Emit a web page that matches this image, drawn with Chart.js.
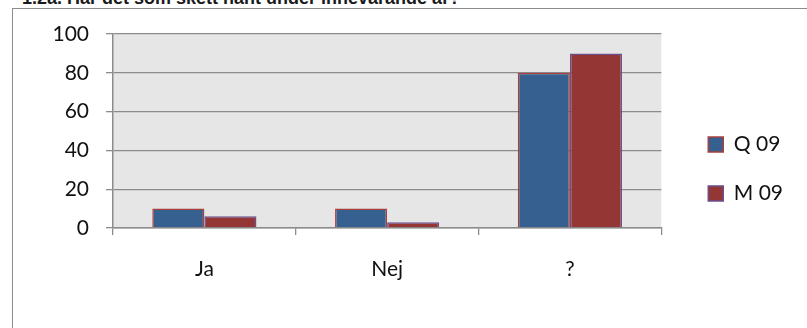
<!DOCTYPE html>
<html>
<head>
<meta charset="utf-8">
<script src="https://cdn.jsdelivr.net/npm/chart.js@4.4.0/dist/chart.umd.min.js"></script>
<style>
  html, body { margin: 0; padding: 0; background: #fff; overflow: hidden; }
  #wrap { position: relative; width: 807px; height: 328px; }
  #title {
    position: absolute; left: 22px; top: -12px; line-height: 20px;
    font: bold 18px 'Liberation Sans', Arial, sans-serif; color: #1a1a1a; white-space: nowrap;
  }
  #frame {
    position: absolute; left: 12px; top: 8px; width: 800px; height: 330px;
    border-left: 1.5px solid #8c8c8c; border-top: 1.5px solid #8c8c8c;
  }
  canvas { position: absolute; left: 0; top: 0; }
</style>
</head>
<body>
<div id="wrap">
  <div id="title">1.2a. Har det som skett hänt under innevarande år?</div>
  <div id="frame"></div>
  <canvas id="chart" width="807" height="328"></canvas>
</div>
<script>
const categories = ['Ja', 'Nej', '?'];
const q09 = [10, 10, 80];
const m09 = [6, 3, 90];
const yTicks = [0, 20, 40, 60, 80, 100];

document.addEventListener('DOMContentLoaded', function () {
    Chart.defaults.font.family = "Lato, 'Open Sans', sans-serif";
    Chart.defaults.color = '#111';

    // grey plot area like the Excel original
    const plotBg = {
        id: 'plotBg',
        beforeDraw(chart) {
            const a = chart.chartArea;
            chart.ctx.save();
            chart.ctx.fillStyle = '#e6e6e6';
            chart.ctx.fillRect(a.left, a.top, a.right - a.left, a.bottom - a.top);
            chart.ctx.restore();
        }
    };

    // nudge the legend to where the original sits
    const legendShift = {
        id: 'legendShift',
        afterLayout(chart) {
            const l = chart.legend;
            l.left += 19; l.right += 19;
            l.top -= 12; l.bottom -= 12;
        }
    };

    const ctx = document.getElementById('chart').getContext('2d');
    new Chart(ctx, {
        type: 'bar',
        data: {
            labels: categories,
            datasets: [{
                label: 'Q 09',
                data: q09,
                backgroundColor: '#36608f',
                borderColor: '#a8403e',
                borderWidth: 1.5,
                borderSkipped: 'bottom'
            }, {
                label: 'M 09',
                data: m09,
                backgroundColor: '#943634',
                borderColor: '#6a4f8c',
                borderWidth: 1.5,
                borderSkipped: 'bottom'
            }]
        },
        options: {
            responsive: false,
            animation: false,
            layout: { padding: { left: 13, right: 33, top: 34, bottom: 0 } },
            datasets: { bar: { categoryPercentage: 0.57, barPercentage: 1 } },
            plugins: {
                legend: {
                    position: 'right',
                    labels: {
                        boxWidth: 15,
                        boxHeight: 15,
                        padding: 28,
                        font: { size: 21 },
                        color: '#111'
                    }
                },
                tooltip: { enabled: false }
            },
            scales: {
                x: {
                    grid: { offset: true, drawOnChartArea: false, tickLength: 7, color: '#8c8c8c', lineWidth: 1.3 },
                    border: { color: '#8c8c8c', width: 1.5 },
                    ticks: { font: { size: 21 }, padding: 22, color: '#111' },
                    afterFit(scale) { scale.height = 100; }
                },
                y: {
                    min: 0,
                    max: 100,
                    afterBuildTicks(scale) { scale.ticks = yTicks.map(v => ({ value: v })); },
                    grid: { color: '#8c8c8c', lineWidth: 1.3, tickLength: 7 },
                    border: { color: '#8c8c8c', width: 1.5 },
                    ticks: { font: { size: 21 }, padding: 17, color: '#111' },
                    afterFit(scale) { scale.width = 100; }
                }
            }
        },
        plugins: [plotBg, legendShift]
    });
});
</script>
</body>
</html>
